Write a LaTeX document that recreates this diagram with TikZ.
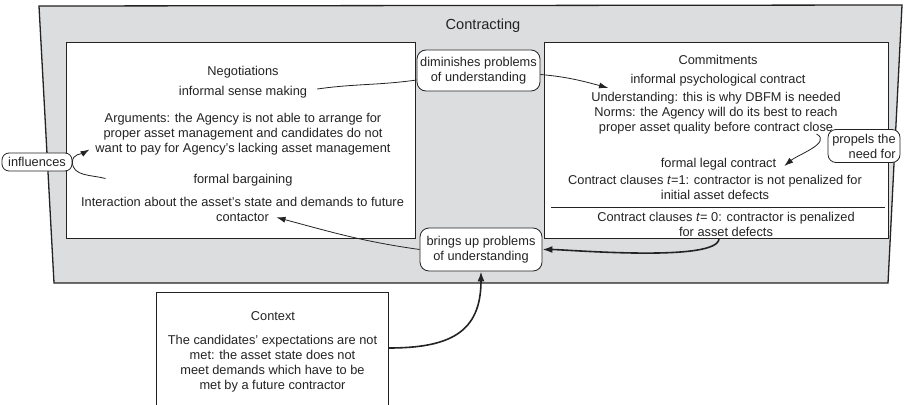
\documentclass[tikz,border=0pt]{standalone}
\usepackage{fontspec}
\setmainfont{Liberation Sans}
\usetikzlibrary{arrows.meta}
\definecolor{gris}{RGB}{220,221,223}
\definecolor{trazo}{RGB}{35,35,35}

\begin{document}
\begin{tikzpicture}[
        x=1pt, y=-1pt,
        caja/.style={rectangle, draw=trazo, fill=white, line width=1pt, inner sep=0pt},
        burbuja/.style={rectangle, draw=trazo, fill=white, rounded corners=9pt, line width=0.8pt, align=center, inner sep=0pt, text=trazo, font=\fontsize{12.8}{15}\selectfont},
        texto/.style={align=center, inner sep=0pt, text=trazo, font=\fontsize{12.8}{15}\selectfont},
        flecha/.style={-{Latex[length=9pt,width=6pt]}, draw=trazo, line width=0.8pt},
        gruesa/.style={-{Latex[length=10pt,width=7pt]}, draw=trazo, line width=1.6pt},
        linea/.style={draw=trazo, line width=0.8pt}
    ]
        \useasboundingbox (0,0) rectangle (904,404);
        % contracting area
        \draw[fill=gris, draw=trazo, line width=1.3pt] (39,6) -- (902,5) -- (888,283) -- (54,283) -- cycle;
        \node[texto, font=\fontsize{14.6}{16}\selectfont] (contr) at (483,26) {Contracting};

        \node[caja, minimum width=349pt, minimum height=195pt] (izq) at (240.5,140.5) {};
        \node[caja, minimum width=344pt, minimum height=195pt] (der) at (716,140.5) {};
        \node[caja, minimum width=232pt, minimum height=124pt] (ctxbox) at (272,354) {};

        % negotiations
        \node[texto] (neg) at (243,72) {Negotiations};
        \node[texto] (nsense) at (243,92) {informal sense making};
        \node[texto] (narg) at (243,134) {Arguments: the Agency is not able to arrange for\\proper asset management and candidates do not\\want to pay for Agency’s lacking asset management};
        \node[texto] (nbarg) at (243,180) {formal bargaining};
        \node[texto] (ninter) at (242.5,209) {Interaction about the asset’s state and demands to future\\contactor};

        % commitments
        \node[texto] (com) at (718,60) {Commitments};
        \node[texto] (cpsy) at (718,80) {informal psychological contract};
        \node[texto] (cund) at (716,113) {Understanding: this is why DBFM is needed\\Norms: the Agency will do its best to reach\\proper asset quality before contract close};
        \node[texto] (clegal) at (718.5,164) {formal legal contract};
        \node[texto] (ct1) at (715,187.5) {Contract clauses \textit{t}=1: contractor is not penalized for\\initial asset defects};
        \draw[linea, line width=0.6pt] (551,207) -- (885,207);
        \node[texto] (ct0) at (726,224.5) {Contract clauses \textit{t}= 0: contractor is penalized\\for asset defects};

        % context
        \node[texto] (ctx) at (273,316) {Context};
        \node[texto] (ctxtxt) at (272.5,364) {The candidates’ expectations are not\\met: the asset state does not\\meet demands which have to be\\met by a future contractor};

        % bubbles
        \node[burbuja, minimum width=123pt, minimum height=41pt] (dim) at (478.5,70.5) {diminishes problems\\of understanding};
        \node[burbuja, minimum width=122pt, minimum height=43pt] (brg) at (481,249.5) {brings up problems\\of understanding};
        \node[burbuja, minimum width=70pt, minimum height=18pt, rounded corners=7pt] (infl) at (37,162) {influences};
        \node[burbuja, minimum width=72pt, minimum height=33pt, rounded corners=8pt, align=right] (prop) at (864,146) {propels the\\need for};

        \draw[linea] ([xshift=10pt,yshift=3pt]nsense.east) to[out=8,in=188] ([yshift=-9.5pt]dim.west);
        \draw[flecha] ([yshift=-4pt]dim.east) to[out=-5,in=165] ([xshift=17pt,yshift=4pt]cund.north west);
        \draw[flecha] ([xshift=40pt,yshift=-38pt]izq.west) to[out=165,in=-90] (infl.east) to[out=90,in=210] ([xshift=24pt,yshift=-9pt]izq.west);
        \draw[flecha] ([xshift=-11pt,yshift=12pt]prop.west) to[out=-30,in=40] ([xshift=8pt,yshift=-2pt]clegal.east);
        \draw[gruesa] ([xshift=3pt]der.south) to[out=-90,in=0,looseness=0.35] (brg.east);
        \draw[gruesa] ([yshift=6pt]ctxbox.east) to[out=0,in=-90,looseness=1.3] (brg.south);
        \draw[flecha] (brg.west) to[out=172,in=-15] ([xshift=34pt,yshift=4pt]ninter.south);
    \end{tikzpicture}
\end{document}
